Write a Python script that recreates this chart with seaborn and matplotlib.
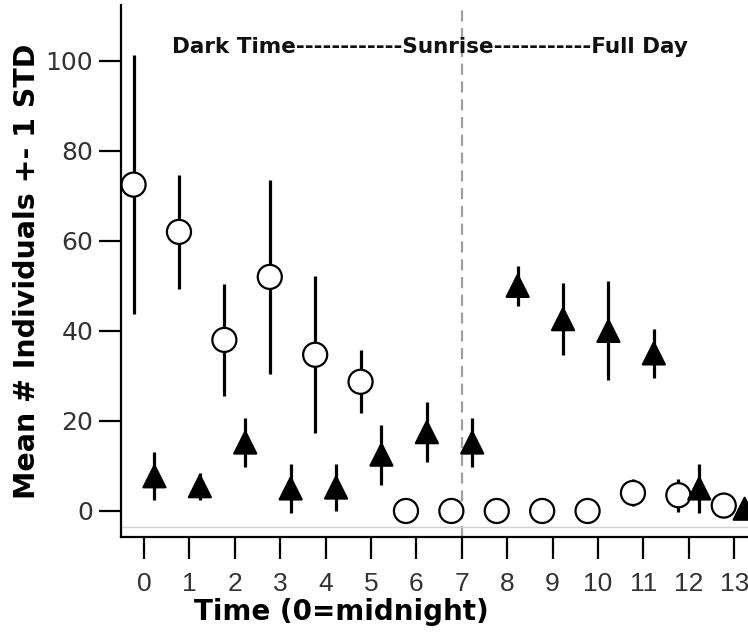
import numpy as np
import pandas as pd
import seaborn as sns
import matplotlib.pyplot as plt

# Values
hours = list(range(14))
circle_mean = [72.5, 62, 38, 52, 34.7, 28.7, 0, 0, 0, 0, 0, 4, 3.5, 1.2]
circle_sd = [28.7, 12.7, 12.5, 21.5, 17.4, 7, 0, 0, 0, 0, 0, 3, 3.7, 0.4]
tri_mean = [7.7, 5.5, 15.2, 5, 5.2, 12.5, 17.5, 15.2, 50, 42.6, 40, 35, 5, 0.5]
tri_sd = [5.3, 3, 5.5, 5.4, 5.3, 6.7, 6.7, 5.5, 4.5, 8, 11, 5.5, 5.5, 0]
y_ticks = [0, 20, 40, 60, 80, 100]
phase_text = 'Dark Time' + '-' * 12 + 'Sunrise' + '-' * 11 + 'Full Day'

sns.set_theme(style='white')
plt.rcParams['font.family'] = ['DejaVu Sans']

# long table, groups dodged left/right of each hour
dodge = 0.23
df = pd.concat([
    pd.DataFrame({'hour': hours, 'mean': circle_mean, 'sd': circle_sd, 'group': 'A'}),
    pd.DataFrame({'hour': hours, 'mean': tri_mean, 'sd': tri_sd, 'group': 'B'}),
], ignore_index=True)
df['pos'] = df['hour'] + np.where(df['group'] == 'A', -dodge, dodge)

fig = plt.figure(figsize=(7.48, 6.37), dpi=100)
ax = fig.add_axes([121 / 748, 100 / 637, 627 / 748, 532 / 637])

# error bars (mean +- 1 sd)
ax.vlines(df['pos'], df['mean'] - df['sd'], df['mean'] + df['sd'],
          color='black', lw=2.3, zorder=2)

sns.scatterplot(data=df, x='pos', y='mean', style='group', hue='group', size='group',
                markers={'A': 'o', 'B': '^'},
                palette={'A': 'white', 'B': 'black'},
                sizes={'A': 300, 'B': 250},
                edgecolor='black', linewidth=1.6,
                legend=False, ax=ax, zorder=3)

ax.axvline(7, color='#a0a0a0', lw=1.6, ls=(0, (5, 3)), zorder=1)
ax.axhline(-3.6, color='#d0d0d0', lw=1, zorder=1)

ax.text(6.29, 103.1, phase_text, ha='center', va='center',
        fontsize=15.5, fontweight='bold', color='#111111')

ax.set_xlim(-0.507, 13.304)
ax.set_ylim(-5.78, 112.4)
ax.set_xticks(hours)
ax.set_yticks(y_ticks)
ax.set_xticklabels([str(h) for h in hours], fontsize=19,
                   family='Liberation Sans', color='#333333')
ax.set_yticklabels([str(v) for v in y_ticks], fontsize=18, color='#333333')

ax.tick_params(axis='both', direction='out', length=16, width=1.6,
               color='black', pad=4, left=True, bottom=True)
ax.tick_params(axis='x', pad=9)

for side in ['top', 'right']:
    ax.spines[side].set_visible(False)
for side in ['left', 'bottom']:
    ax.spines[side].set_color('black')
    ax.spines[side].set_linewidth(1.6)

ax.set_xlabel('Time (0=midnight)', fontsize=20, fontweight='bold', color='black')
ax.set_ylabel('Mean # Individuals +- 1 STD', fontsize=20.5, fontweight='bold', color='black')
ax.xaxis.set_label_coords(0.351, -0.114)
ax.yaxis.set_label_coords(-0.128, 0.5)

fig.savefig('out.png', dpi=100)
